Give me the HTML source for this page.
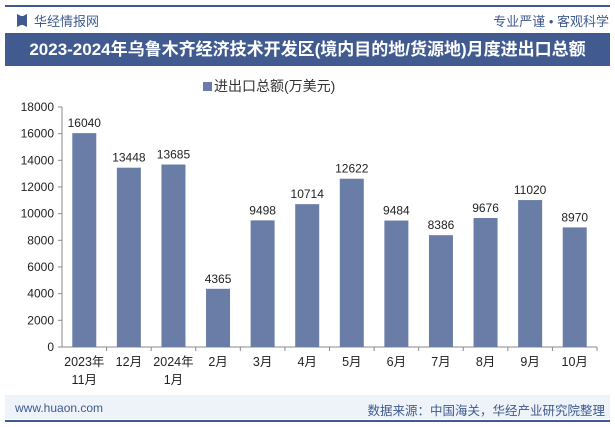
<!DOCTYPE html>
<html><head><meta charset="utf-8"><style>
body{margin:0;width:615px;height:427px;background:#fff;font-family:"Liberation Sans","Noto Sans CJK SC",sans-serif;position:relative;overflow:hidden}
.a{position:absolute}
</style></head><body>
<div class="a" style="left:5px;top:5px;width:605px;height:2px;background:#3f5a8e"></div>
<div class="a" style="left:17px;top:14px;width:10px;height:13px;background:#3f5a8e;clip-path:polygon(0 0,40% 15%,60% 15%,100% 0,100% 100%,60% 85%,40% 85%,0 100%)"></div>
<div class="a" style="left:34px;top:11px;font-size:13px;color:#3f5a8e">华经情报网</div>
<div class="a" style="right:6px;top:11px;font-size:13px;color:#3f5a8e">专业严谨 • 客观科学</div>
<div class="a" style="left:5px;top:33px;width:605px;height:33px;background:#415b91;color:#fff;font-size:17px;font-weight:bold;line-height:33px;text-align:center">2023-2024年乌鲁木齐经济技术开发区(境内目的地/货源地)月度进出口总额</div>
<div class="a" style="left:203px;top:76px;font-size:14px;color:#333"><span style="display:inline-block;width:9px;height:9px;background:#6a7da6;margin-right:2px"></span>进出口总额(万美元)</div>
<svg class="a" style="left:0;top:0" width="615" height="427" id="c"></svg>
<div class="a" style="left:5px;top:395px;width:605px;height:24px;background:#eef2f9"></div>
<div class="a" style="left:15px;top:401px;font-size:12px;color:#3f5a8e">www.huaon.com</div>
<div class="a" style="right:10px;top:400px;font-size:12.5px;color:#3f5a8e">数据来源：中国海关，华经产业研究院整理</div>
<div class="a" style="left:5px;top:420px;width:605px;height:2px;background:#3f5a8e"></div>
<script>
const categories=["2023年\n11月","12月","2024年\n1月","2月","3月","4月","5月","6月","7月","8月","9月","10月"];
const values=[16040,13448,13685,4365,9498,10714,12622,9484,8386,9676,11020,8970];
const ticks=[0,2000,4000,6000,8000,10000,12000,14000,16000,18000];
const svg=document.getElementById('c'),NS='http://www.w3.org/2000/svg';
const x0=62,x1=597,yb=347,yt=107,max=18000;
const bw=(x1-x0)/categories.length;
const y=v=>yb-(yb-yt)*v/max;
function el(t,a,p){const e=document.createElementNS(NS,t);for(const k in a)e.setAttribute(k,a[k]);(p||svg).appendChild(e);return e;}
const ax=el('line',{x1:x0,y1:yt,x2:x0,y2:yb,stroke:'#888'});

ticks.forEach(t=>{
 el('line',{x1:x0-4,y1:y(t),x2:x0,y2:y(t),stroke:'#888'});
 const tx=el('text',{x:x0-8,y:y(t)+4,'text-anchor':'end','font-size':12,fill:'#222'});tx.textContent=t;
 
});
const xa=el('line',{x1:x0,y1:yb,x2:x1,y2:yb,stroke:'#888'});

categories.forEach((c,i)=>{
 const cx=x0+bw*(i+0.5);
 el('line',{x1:x0+bw*(i+1),y1:yb,x2:x0+bw*(i+1),y2:yb+4,stroke:'#888'});
 const r=el('rect',{x:cx-12,y:y(values[i]),width:24,height:yb-y(values[i]),fill:'#6a7da6'});
 
 const v=el('text',{x:cx,y:y(values[i])-6,'text-anchor':'middle','font-size':12,fill:'#222'});v.textContent=values[i];
 
 c.split('\n').forEach((ln,j)=>{
  const t=el('text',{x:cx,y:yb+19+j*18,'text-anchor':'middle','font-size':12.5,fill:'#222'});t.textContent=ln;
  
 });
});
</script>
</body></html>
